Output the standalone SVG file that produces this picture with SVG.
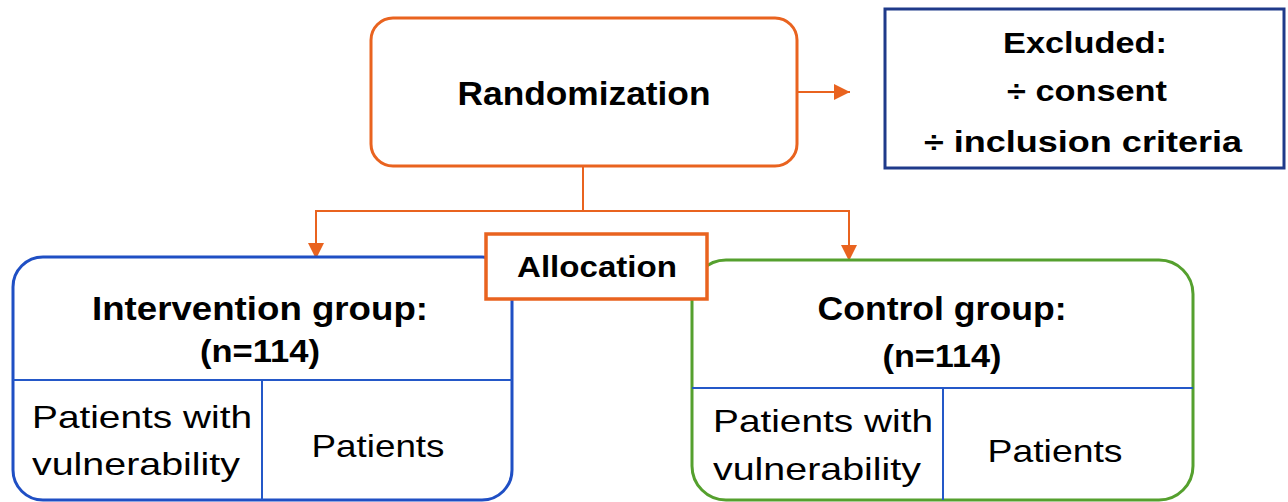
<svg xmlns="http://www.w3.org/2000/svg" width="1288" height="502" viewBox="0 0 1288 502">
  <defs>
    <marker id="arr" viewBox="0 0 16 16" refX="16" refY="8" markerWidth="16" markerHeight="16" markerUnits="userSpaceOnUse" orient="auto">
      <path d="M0,0 L16,8 L0,16 Z" fill="#E9631F"/>
    </marker>
    <style>
      .t { font-family: "Liberation Sans", Arial, sans-serif; fill: #000; }
      .b { font-weight: bold; }
      .c { text-anchor: middle; }
      .conn { stroke: #E9631F; stroke-width: 2; fill: none; }
      .div { stroke: #2458C8; stroke-width: 2; fill: none; }
    </style>
  </defs>
  <rect width="1288" height="502" fill="#fff"/>

  <g id="connectors">
    <line class="conn" x1="797" y1="92" x2="850" y2="92" marker-end="url(#arr)"/>
    <line class="conn" x1="583" y1="166" x2="583" y2="211"/>
    <line class="conn" x1="316" y1="211" x2="849" y2="211"/>
    <line class="conn" x1="316" y1="210" x2="316" y2="259" marker-end="url(#arr)"/>
    <line class="conn" x1="849" y1="210" x2="849" y2="261" marker-end="url(#arr)"/>
  </g>

  <g id="randomization">
    <rect x="371" y="18" width="426" height="148" rx="22" fill="#fff" stroke="#E9631F" stroke-width="3"/>
    <text class="t b c" x="584" y="105" font-size="33" textLength="253" lengthAdjust="spacingAndGlyphs">Randomization</text>
  </g>

  <g id="excluded">
    <rect x="885" y="9" width="399" height="159" fill="#fff" stroke="#1F3A8A" stroke-width="3"/>
    <text class="t b c" x="1085" y="53" font-size="30" textLength="164" lengthAdjust="spacingAndGlyphs">Excluded:</text>
    <text class="t b c" x="1087" y="101" font-size="30" textLength="160" lengthAdjust="spacingAndGlyphs">÷ consent</text>
    <text class="t b c" x="1083" y="152" font-size="30" textLength="318" lengthAdjust="spacingAndGlyphs">÷ inclusion  criteria</text>
  </g>

  <g id="intervention">
    <rect x="13" y="257" width="499" height="243" rx="30" fill="#fff" stroke="#1F4FC4" stroke-width="3"/>
    <line class="div" x1="13" y1="380" x2="512" y2="380"/>
    <line class="div" x1="262" y1="380" x2="262" y2="500"/>
    <text class="t b c" x="260" y="320" font-size="33" textLength="336" lengthAdjust="spacingAndGlyphs">Intervention  group:</text>
    <text class="t b c" x="260" y="362" font-size="31" textLength="120" lengthAdjust="spacingAndGlyphs">(n=114)</text>
    <text class="t" x="32" y="428" font-size="32" textLength="220" lengthAdjust="spacingAndGlyphs">Patients with</text>
    <text class="t" x="32" y="475" font-size="32" textLength="208" lengthAdjust="spacingAndGlyphs">vulnerability</text>
    <text class="t c" x="378" y="457" font-size="32" textLength="133" lengthAdjust="spacingAndGlyphs">Patients</text>
  </g>

  <g id="control">
    <rect x="692" y="260" width="501" height="240" rx="34" fill="#fff" stroke="#55A02E" stroke-width="3"/>
    <line class="div" x1="692" y1="388" x2="1193" y2="388"/>
    <line class="div" x1="943" y1="388" x2="943" y2="500"/>
    <text class="t b c" x="942" y="320" font-size="33" textLength="249" lengthAdjust="spacingAndGlyphs">Control  group:</text>
    <text class="t b c" x="942" y="367" font-size="31" textLength="119" lengthAdjust="spacingAndGlyphs">(n=114)</text>
    <text class="t" x="713" y="432" font-size="32" textLength="220" lengthAdjust="spacingAndGlyphs">Patients with</text>
    <text class="t" x="713" y="480" font-size="32" textLength="208" lengthAdjust="spacingAndGlyphs">vulnerability</text>
    <text class="t c" x="1055" y="462" font-size="32" textLength="135" lengthAdjust="spacingAndGlyphs">Patients</text>
  </g>

  <g id="allocation">
    <rect x="486" y="234" width="221" height="65" fill="#fff" stroke="#E9631F" stroke-width="3.5"/>
    <text class="t b c" x="597" y="277" font-size="29" textLength="160" lengthAdjust="spacingAndGlyphs">Allocation</text>
  </g>
</svg>
